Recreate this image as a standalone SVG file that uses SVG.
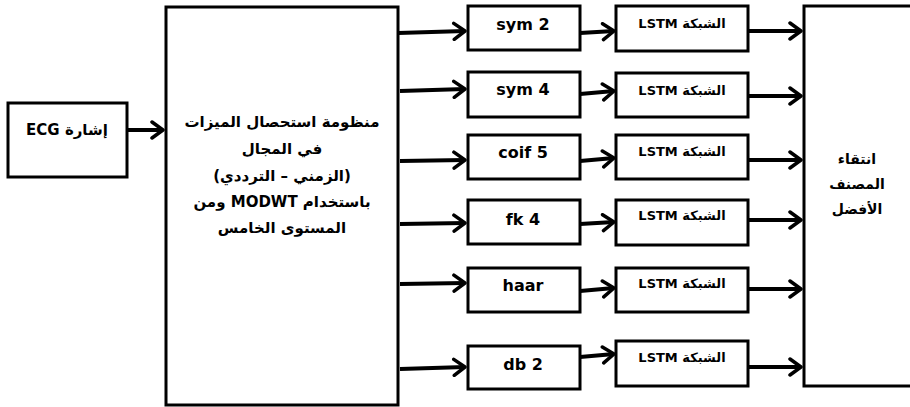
<svg xmlns="http://www.w3.org/2000/svg" width="910" height="407" viewBox="0 0 910 407">
<style>
.box{fill:#fff;stroke:#000;stroke-width:3}
.t{font-family:"DejaVu Sans",sans-serif;font-weight:bold;fill:#000;text-anchor:middle}
.ar{direction:rtl;unicode-bidi:embed}
.w{font-size:16px}
.l{font-size:13px}
.f{font-size:14px}
.m{font-size:15px}
.c{stroke:#000;stroke-width:4;fill:none;marker-end:url(#ah)}
</style>
<defs>
<marker id="ah" markerUnits="userSpaceOnUse" markerWidth="18" markerHeight="20" refX="14" refY="10" orient="auto">
<path d="M3,2 L14,10 L3,18" fill="none" stroke="#000" stroke-width="3.5" stroke-linecap="round" stroke-linejoin="round"/>
</marker>
</defs>
<rect width="910" height="407" fill="#fff"/>
<g id="connectors">
<line class="c" x1="127" y1="130" x2="163" y2="130"/>
<line class="c" x1="398" y1="33" x2="465" y2="31"/>
<line class="c" x1="400" y1="91" x2="465" y2="89"/>
<line class="c" x1="400" y1="161" x2="465" y2="160"/>
<line class="c" x1="400" y1="224" x2="465" y2="223"/>
<line class="c" x1="400" y1="284" x2="465" y2="283"/>
<line class="c" x1="400" y1="369" x2="465" y2="367"/>
<line class="c" x1="580" y1="33" x2="614" y2="31"/>
<line class="c" x1="580" y1="94" x2="614" y2="91"/>
<line class="c" x1="580" y1="161" x2="614" y2="158"/>
<line class="c" x1="580" y1="224" x2="614" y2="222"/>
<line class="c" x1="580" y1="291" x2="614" y2="288"/>
<line class="c" x1="580" y1="357" x2="614" y2="354"/>
<line class="c" x1="748" y1="31" x2="801" y2="31"/>
<line class="c" x1="748" y1="96" x2="801" y2="96"/>
<line class="c" x1="748" y1="160" x2="801" y2="160"/>
<line class="c" x1="748" y1="220" x2="801" y2="220"/>
<line class="c" x1="748" y1="289" x2="801" y2="289"/>
<line class="c" x1="748" y1="367" x2="801" y2="367"/>
</g>
<g id="ecg">
<rect class="box" x="8" y="103" width="119" height="74"/>
<text class="t m ar" x="67" y="135">إشارة ECG</text>
</g>
<g id="features">
<rect class="box" x="166" y="7" width="232" height="398"/>
<text class="t m ar" x="282" y="127">منظومة استحصال الميزات</text>
<text class="t m ar" x="282" y="154">في المجال</text>
<text class="t m ar" x="282" y="181">(الزمني – الترددي)</text>
<text class="t m ar" x="282" y="207">باستخدام MODWT ومن</text>
<text class="t m ar" x="282" y="233">المستوى الخامس</text>
</g>
<g id="w1"><rect class="box" x="468" y="6" width="112" height="44"/><text class="t w" x="523" y="30">sym 2</text></g>
<g id="w2"><rect class="box" x="468" y="72" width="112" height="45"/><text class="t w" x="523" y="95">sym 4</text></g>
<g id="w3"><rect class="box" x="468" y="135" width="112" height="44"/><text class="t w" x="523" y="158">coif 5</text></g>
<g id="w4"><rect class="box" x="468" y="200" width="112" height="44"/><text class="t w" x="523" y="225">fk 4</text></g>
<g id="w5"><rect class="box" x="468" y="268" width="112" height="44"/><text class="t w" x="523" y="291">haar</text></g>
<g id="w6"><rect class="box" x="468" y="346" width="112" height="43"/><text class="t w" x="523" y="370">db 2</text></g>
<g id="n1"><rect class="box" x="616" y="6" width="132" height="45"/><text class="t l ar" x="682" y="28">الشبكة LSTM</text></g>
<g id="n2"><rect class="box" x="616" y="73" width="132" height="44"/><text class="t l ar" x="682" y="95">الشبكة LSTM</text></g>
<g id="n3"><rect class="box" x="616" y="135" width="132" height="44"/><text class="t l ar" x="682" y="156">الشبكة LSTM</text></g>
<g id="n4"><rect class="box" x="616" y="200" width="132" height="45"/><text class="t l ar" x="682" y="220">الشبكة LSTM</text></g>
<g id="n5"><rect class="box" x="616" y="268" width="132" height="44"/><text class="t l ar" x="682" y="288">الشبكة LSTM</text></g>
<g id="n6"><rect class="box" x="616" y="341" width="132" height="45"/><text class="t l ar" x="682" y="362">الشبكة LSTM</text></g>
<g id="best">
<rect class="box" x="804" y="6" width="120" height="380"/>
<text class="t f ar" x="857" y="164">انتقاء</text>
<text class="t f ar" x="857" y="189">المصنف</text>
<text class="t f ar" x="857" y="214">الأفضل</text>
</g>
</svg>
